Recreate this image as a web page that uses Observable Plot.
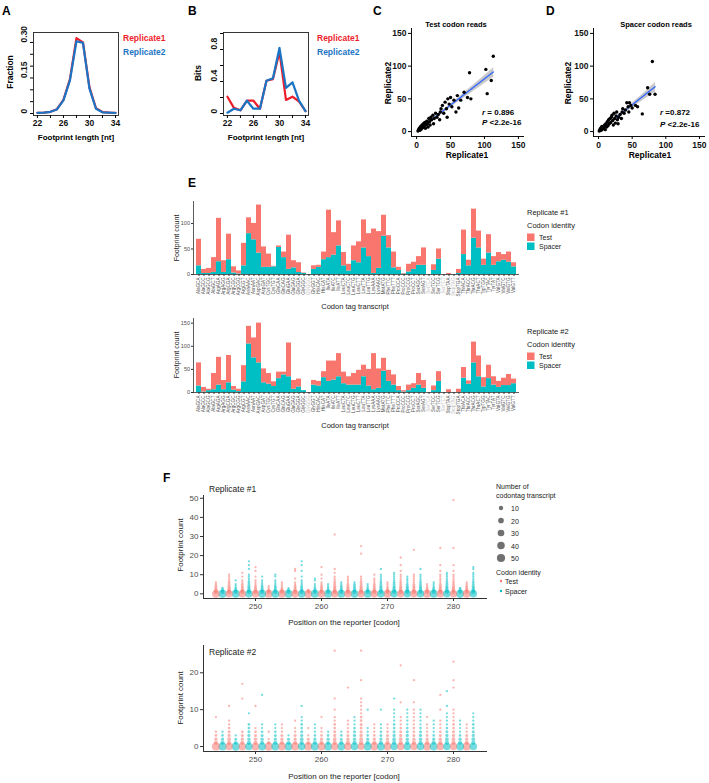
<!DOCTYPE html>
<html><head><meta charset="utf-8">
<script src="https://cdn.jsdelivr.net/npm/d3@7"></script>
<script src="https://cdn.jsdelivr.net/npm/@observablehq/plot@0.6"></script>
<style>
body{margin:0;background:#fff;}
#fig{position:relative;width:709px;height:783px;overflow:hidden;font-family:"Liberation Sans",Arial,sans-serif;}
#fig svg{position:absolute;left:0;top:0;overflow:visible;}
</style></head><body><div id="fig"></div><script>
// ---------- DATA ----------
const lengthNt = [22,23,24,25,26,27,28,29,30,31,32,33,34];
const fractionRep1 = [0.003,0.004,0.007,0.018,0.058,0.145,0.318,0.300,0.110,0.022,0.006,0.004,0.003];
const fractionRep2 = [0.003,0.004,0.007,0.017,0.055,0.140,0.305,0.298,0.105,0.020,0.005,0.004,0.002];
const bitsRep1 = [0.21,0.07,0.04,0.16,0.16,0.06,0.41,0.43,0.77,0.17,0.21,0.15,0.03];
const bitsRep2 = [0.01,0.06,0.04,0.16,0.06,0.06,0.41,0.44,0.82,0.32,0.39,0.16,0.03];

const testRep1 = [2,3,4,5,6,7,8,9,10,11,12,13,14,15,16,17,18,19,20,21,22,24,25,26,28,30,32,34,35,36,38,40,42,44,45,46,48,50,52,55,58,60,62,65,70,75,78,80,102,104,110,113];
const testRep2 = [1,3,5,2,8,4,10,6,12,8,14,5,10,16,12,7,20,15,10,22,18,25,12,20,28,22,26,18,30,35,40,28,45,35,22,50,42,52,38,48,30,55,36,48,60,52,90,50,95,58,78,115];
const spacerRep1 = [1,2,3,4,5,6,8,9,10,11,12,13,14,15,16,17,18,19,20,21,22,23,24,25,26,27,28,29,30,32,34,35,36,38,40,42,44,45,46,48,50,55,58,65,73,76,80,84];
const spacerRep2 = [1,3,5,2,8,4,6,10,3,12,7,15,9,18,12,20,14,22,25,17,10,28,20,13,24,30,18,12,22,26,20,30,35,28,33,44,38,30,44,40,36,40,38,27,67,57,107,57];

const codons = ["AlaGCA","AlaGCC","AlaGCG","AlaGCT","ArgAGA","ArgAGG","ArgCGA","ArgCGC","ArgCGG","ArgCGT","AsnAAC","AsnAAT","AspGAC","AspGAT","CysTGC","CysTGT","GlnCAA","GlnCAG","GluGAA","GluGAG","GlyGGA","GlyGGC","GlyGGG","GlyGGT","HisCAC","HisCAT","IleATA","IleATC","IleATT","LeuCTA","LeuCTC","LeuCTG","LeuCTT","LeuTTA","LeuTTG","LysAAA","LysAAG","MetATG","PheTTC","PheTTT","ProCCA","ProCCC","ProCCG","ProCCT","SerAGC","SerAGT","SerTCA","SerTCC","SerTCG","SerTCT","StopTAA","StopTAG","StopTGA","ThrACA","ThrACC","ThrACG","ThrACT","TrpTGG","TyrTAC","TyrTAT","ValGTA","ValGTC","ValGTG","ValGTT"];
const grayCodons = ["GlyGGG","SerTCA","SerTCT","StopTAG"];
const e1Test   = [52,8,10,29,85,23,50,12,6,44,31,32,94,40,26,1,3,11,67,14,19,1,0,7,4,15,93,44,49,26,13,29,41,55,45,87,72,41,24,31,6,1,15,14,17,34,0,11,20,0,2,0,8,48,11,57,33,12,36,17,18,11,20,8];
const e1Spacer = [17,2,2,4,25,4,29,3,1,17,80,68,42,14,14,15,53,33,10,13,4,2,0,10,14,29,33,38,56,17,7,27,23,52,35,2,12,75,52,13,8,1,5,10,18,18,0,8,30,0,0,0,2,39,17,71,52,18,42,18,25,28,24,15];
const e2Test   = [50,10,3,35,60,20,59,8,5,35,38,43,86,30,23,10,14,6,73,19,17,0,0,10,10,13,44,41,50,25,18,25,32,25,36,78,42,28,24,22,9,3,12,10,25,17,0,10,21,0,6,0,7,23,7,45,45,20,29,18,13,16,24,10];
const e2Spacer = [14,1,4,6,16,6,21,5,2,23,105,75,64,21,18,13,30,38,34,7,12,4,0,16,14,32,24,27,34,19,16,16,16,34,14,6,9,46,24,16,4,1,4,9,16,9,0,4,24,0,0,0,0,31,18,64,34,12,30,16,11,15,15,19];

const fPositions = [244,245,246,247,248,249,250,251,252,253,254,255,256,257,258,259,260,261,262,263,264,265,266,267,268,269,270,271,272,273,274,275,276,277,278,279,280,281,282,283];
const fIdentity = ["Test","Spacer","Test","Spacer","Test","Spacer","Test","Spacer","Test","Spacer","Test","Spacer","Test","Spacer","Test","Spacer","Test","Spacer","Test","Spacer","Test","Spacer","Test","Spacer","Test","Spacer","Test","Spacer","Test","Spacer","Test","Spacer","Test","Spacer","Test","Spacer","Test","Spacer","Test","Spacer"];
// number of codontag transcripts at footprint count 0,1,2,...
const f1Counts = [
 [44,9,5,3,2,1,1],[50,8,4,2],[38,10,6,4,3,2,2,1,1,1,1],[48,8,4,2,1,1,0,1],
 [40,9,5,3,2,2,1,1,0,1,0,1],[42,9,6,4,3,2,2,1,1,1,1,0,0,1,0,1],[40,9,5,3,2,1,1,1,0,1,0,0,1,0,1],[46,8,5,3,2,1,1,1,0,1],
 [48,8,3,1,1],[45,8,5,3,2,1,1,1,0,1,1],[47,8,4,2,1,1,1],[50,7,4,1],
 [42,9,5,3,2,1,1,0,1,0,0,0,1,1],[44,9,5,3,2,1,1,1,0,1,0,0,1,0,0,1],[52,6,2],[46,8,4,2,1,1,0,1,1],
 [44,8,4,3,2,1,1,0,1,0,1,0,0,0,1],[48,8,3,2,1,1],[38,9,6,4,3,2,2,1,1,1,0,1,0,1],[46,8,4,3,2,1,1],
 [40,9,5,4,3,2,1,1,1,1],[44,9,5,3,2,2,1],[38,10,6,4,3,2,2,1,1,1],[46,8,4,2,1,1],
 [42,9,5,3,2,2,1,1,1,0,1],[42,9,5,4,3,2,2,1,1,1,1,0,0,1],[46,8,4,2,1,1,1],[40,9,6,4,3,2,2,1,1,1,1,1],
 [38,10,6,4,3,2,2,1,1,1,1,0,1,0,0,1],[40,9,6,4,3,2,1,1,1,1],[40,9,5,3,3,2,1,1,1,1,1],[40,9,6,4,3,2,2,1,1,1,1,0,0,1],
 [48,8,4,2,1,1],[46,8,4,3,1,1,1],[40,9,6,4,3,2,1,1,1,1,1,0,1,0,0,1],[40,9,6,4,3,2,2,1,1,1,1,1],
 [38,9,6,4,3,2,2,1,1,1,1,0,1,0,0,1],[50,8,4,2],[46,8,4,3,2,1,1],[40,9,6,4,3,2,2,1,1,1,1,1,0,1,1]
];
const f1Outliers = [[262,31],[266,25],[266,21],[272,19],[274,23],[278,24],[280,49],[280,24],[249,17],[257,17]];
const f2Counts = [
 [48,8,4,2,1],[50,8,4,2,1],[40,9,6,4,3,2,1,1],[52,6,3,1],
 [44,8,4,3,2],[42,9,5,4,3,2,2],[44,8,5,3,2,1],[44,8,5,3,2,1,1],
 [54,5,1,0,1],[46,8,4,3,2,1,1],[46,8,4,3,1,1,1],[50,7,3,1],
 [46,8,4,3,1,1,0,1],[40,9,6,4,3,2,2,1,1],[50,7,3,1,0,1],[46,8,4,2,1,1,1],
 [46,8,4,2,1,1,0,0,1],[48,7,4,2,1],[38,9,6,4,3,2,2,1,1,0,1],[48,8,3,2,1],
 [42,9,5,3,2,1,1,1],[42,9,5,4,3,2,1,1,1],[34,10,7,5,4,3,3,2,2,1,1,1,1,1],[46,8,4,2,1,1],
 [48,8,4,2,1,1,1],[44,8,4,3,2,1,1],[46,8,4,3,2,1,1],[40,9,6,4,3,2,2,1,1,1,1,0,0,1],
 [40,9,6,4,3,2,1,1,1],[42,9,5,4,3,2,1,1,1,1,1],[42,9,5,3,2,2,1,1,1,1,1],[42,9,5,4,3,2,1,1,1,1,1],
 [46,8,4,2,1,1,1,0,1],[46,8,4,2,1,1,1,1],[42,9,5,3,2,1,1,1],[40,9,6,4,3,2,1,1,1,1],
 [38,9,6,4,3,2,2,1,1,1,1],[46,8,4,2,1,1,1,1],[48,8,4,3,1,1,1],[40,9,6,4,3,2,2,1,1,1]
];
const f2Outliers = [[244,8],[246,11],[248,13],[248,17],[249,9],[250,11],[251,14],[257,11],[262,13],[262,26],[264,16],[266,18],[266,26],[267,10],[269,10],[272,12],[272,22],[274,12],[274,18],[278,10],[278,14],[279,11],[279,15],[280,16],[280,18],[280,23]];
const sizeLegend = [10,20,30,40,50];

// ---------- SETUP ----------
const W = 709, H = 783;
const RED = "#EE1D2B", BLUE = "#1C75C4";
const TESTC = "#F8766D", SPACERC = "#00BFC4";
const FONT = "Liberation Sans, Arial, Helvetica, sans-serif";
const fig = document.getElementById("fig");
function P(o){ const s = Plot.plot({width:W, height:H, style:{background:"transparent", fontFamily:FONT, overflow:"visible"}, ...o}); fig.appendChild(s); return s; }

// ---------- A ----------
const lenA1 = lengthNt.map((l,i)=>({len:l, v:fractionRep1[i]}));
const lenA2 = lengthNt.map((l,i)=>({len:l, v:fractionRep2[i]}));
P({marginLeft:33, marginRight:W-118, marginTop:32, marginBottom:H-115,
  x:{domain:[21.4,34.46]}, y:{domain:[-0.0085,0.342]},
  marks:[
    Plot.frame({stroke:"#222", strokeWidth:0.9}),
    Plot.axisX({ticks:[22,24,26,28,30,32,34], tickSize:3, tickPadding:1.5, tickFormat:d=>d%4===2?String(d):"", fontSize:8.5, fontWeight:"bold", fill:"#111", label:null}),
    Plot.axisY({ticks:[0,0.05,0.1,0.15,0.2,0.25,0.3], tickSize:3, tickFormat:()=>"", label:null}),
    Plot.text([0,0.15,0.30], {y:d=>d, frameAnchor:"left", dx:-9, rotate:-90, text:d=>d===0?"0":d.toFixed(2), fontSize:8.5, fontWeight:"bold", fill:"#111"}),
    Plot.line(lenA1, {x:"len", y:"v", stroke:RED, strokeWidth:2.2}),
    Plot.line(lenA2, {x:"len", y:"v", stroke:BLUE, strokeWidth:2.2})
  ]});

// ---------- B ----------
const lenB1 = lengthNt.map((l,i)=>({len:l, v:bitsRep1[i]}));
const lenB2 = lengthNt.map((l,i)=>({len:l, v:bitsRep2[i]}));
P({marginLeft:223, marginRight:W-308, marginTop:32, marginBottom:H-115,
  x:{domain:[21.4,34.46]}, y:{domain:[-0.025,1.0125]},
  marks:[
    Plot.frame({stroke:"#222", strokeWidth:0.9}),
    Plot.axisX({ticks:[22,24,26,28,30,32,34], tickSize:3, tickPadding:1.5, tickFormat:d=>d%4===2?String(d):"", fontSize:8.5, fontWeight:"bold", fill:"#111", label:null}),
    Plot.axisY({ticks:[0,0.2,0.4,0.6,0.8,1.0], tickSize:3, tickFormat:()=>"", label:null}),
    Plot.text([0,0.4,0.8], {y:d=>d, frameAnchor:"left", dx:-9, rotate:-90, text:d=>d===0?"0":d.toFixed(1), fontSize:8.5, fontWeight:"bold", fill:"#111"}),
    Plot.line(lenB1, {x:"len", y:"v", stroke:RED, strokeWidth:2.2}),
    Plot.line(lenB2, {x:"len", y:"v", stroke:BLUE, strokeWidth:2.2})
  ]});

// ---------- C & D ----------
function scatter(xs, ys, left, right){
  const pts = xs.map((x,i)=>({x, y:ys[i]}));
  P({marginLeft:left, marginRight:W-right, marginTop:28, marginBottom:H-136,
    x:{domain:[-7.5,157.5]}, y:{domain:[-7.5,157.5]},
    marks:[
      Plot.frame({anchor:"left", stroke:"#111", strokeWidth:1}),
      Plot.frame({anchor:"bottom", stroke:"#111", strokeWidth:1}),
      Plot.axisX({ticks:[0,50,100,150], tickSize:3, tickPadding:2, fontSize:8.5, fontWeight:"bold", fill:"#111", label:null}),
      Plot.axisY({ticks:[0,50,100,150], tickSize:3, tickPadding:2, fontSize:8.5, fontWeight:"bold", fill:"#111", label:null}),
      Plot.linearRegressionY(pts, {x:"x", y:"y", stroke:"#3366FF", strokeWidth:1.4, fill:"#888", fillOpacity:0.45}),
      Plot.dot(pts, {x:"x", y:"y", r:1.7, fill:"#000"})
    ]});
}
scatter(testRep1, testRep2, 411, 523);
scatter(spacerRep1, spacerRep2, 593, 704);

// ---------- E ----------
function bars(testV, spacerV, top, bottom, ymax, yticks){
  const data = [];
  codons.forEach((c,i)=>{ data.push({codon:c, id:"Spacer", v:spacerV[i]}); data.push({codon:c, id:"Test", v:testV[i]}); });
  const gray = new Set(grayCodons);
  P({marginLeft:193, marginRight:W-518, marginTop:top, marginBottom:H-bottom,
    x:{type:"band", domain:codons, paddingInner:0.1, paddingOuter:0.15},
    y:{domain:[0,ymax]},
    color:{domain:["Test","Spacer"], range:[TESTC,SPACERC]},
    marks:[
      Plot.barY(data, {x:"codon", y:"v", fill:"id"}),
      Plot.frame({anchor:"left", stroke:"#333", strokeWidth:0.8}),
      Plot.frame({anchor:"bottom", stroke:"#333", strokeWidth:0.8}),
      Plot.axisY({ticks:yticks, tickSize:2, tickPadding:1.5, fontSize:5.5, fill:"#4d4d4d", stroke:"#333", label:null}),
      Plot.axisX({tickSize:2, tickFormat:()=>"", stroke:"#333", label:null}),
      Plot.text(codons.filter(c=>!gray.has(c)), {x:d=>d, frameAnchor:"bottom", dy:3, rotate:-90, textAnchor:"end", lineAnchor:"middle", fontSize:4.6, fill:"#4d4d4d"}),
      Plot.text(codons.filter(c=>gray.has(c)), {x:d=>d, frameAnchor:"bottom", dy:3, rotate:-90, textAnchor:"end", lineAnchor:"middle", fontSize:4.6, fill:"#bdbdbd"})
    ]});
}
bars(e1Test, e1Spacer, 201, 274, 143, [0,50,100]);
bars(e2Test, e2Spacer, 318, 392, 160, [0,50,100,150]);

// ---------- F ----------
const rOpts = {type:"sqrt", domain:[1,50], range:[1.15,4.1]};
const rScale = Plot.scale({r:rOpts});
function buildF(cols, outl){
  const out = [];
  cols.forEach((c,i)=>c.forEach((n,y)=>{ if(n>0) out.push({pos:fPositions[i], id:fIdentity[i], y, n}); }));
  outl.forEach(([p,y])=>out.push({pos:p, id:fIdentity[fPositions.indexOf(p)], y, n:1}));
  return out;
}
function dots(data, top, bottom, ydom, yticks){
  P({marginLeft:203, marginRight:W-486, marginTop:top, marginBottom:H-bottom,
    x:{domain:[242.12,285.0]}, y:{domain:ydom}, r:rOpts,
    color:{domain:["Test","Spacer"], range:[TESTC,SPACERC]},
    marks:[
      Plot.frame({anchor:"left", stroke:"#333", strokeWidth:1}),
      Plot.frame({anchor:"bottom", stroke:"#333", strokeWidth:1}),
      Plot.axisX({ticks:[250,260,270,280], tickSize:3, tickPadding:2, fontSize:8, fill:"#4d4d4d", stroke:"#333", label:null}),
      Plot.axisY({ticks:yticks, tickSize:3, tickPadding:2, fontSize:8, fill:"#4d4d4d", stroke:"#333", label:null}),
      Plot.dot(data, {x:"pos", y:"y", r:"n", fill:"id", fillOpacity:0.55})
    ]});
}
dots(buildF(f1Counts, f1Outliers), 495, 598, [-2.45,51.45], [0,10,20,30,40,50]);
dots(buildF(f2Counts, f2Outliers), 645, 751, [-1.35,27.4], [0,10,20]);

// ---------- TEXT OVERLAY ----------
const ov = d3.select(fig).append("svg").attr("width",W).attr("height",H).style("font-family",FONT);
function txt(parts, x, y, o={}){
  const t = ov.append("text").attr("x",x).attr("y",y).attr("dominant-baseline","central")
    .attr("text-anchor",o.anchor||"start").attr("font-size",o.size||8)
    .attr("font-weight",o.weight||"normal").attr("fill",o.fill||"#000");
  if(typeof parts==="string") parts=[[parts,false]];
  parts.forEach(([s,it])=>t.append("tspan").attr("font-style",it?"italic":"normal").text(s));
  if(o.rotate) t.attr("transform",`rotate(${o.rotate},${x},${y})`);
  return t;
}
const B = {weight:"bold"};
txt("A",2,11,{...B,size:12}); txt("B",188,11,{...B,size:12}); txt("C",373,11,{...B,size:12}); txt("D",546,11,{...B,size:12});
txt("Fraction",10,72,{...B,size:8.5,anchor:"middle",rotate:-90});
txt("Footprint length [nt]",76,137,{...B,size:8,anchor:"middle"});
txt("Replicate1",123,38,{...B,size:8.5,fill:RED}); txt("Replicate2",123,52,{...B,size:8.5,fill:BLUE});
txt("Bits",198,73,{...B,size:8.5,anchor:"middle",rotate:-90});
txt("Footprint length [nt]",266,137,{...B,size:8,anchor:"middle"});
txt("Replicate1",317,38,{...B,size:8.5,fill:RED}); txt("Replicate2",317,52,{...B,size:8.5,fill:BLUE});
txt("Test codon reads",456,24,{...B,size:7.5,anchor:"middle"});
txt("Replicate2",388,83,{...B,size:8.5,anchor:"middle",rotate:-90});
txt("Replicate1",467,155,{...B,size:8.5,anchor:"middle"});
txt([["r",true],[" = 0.896",false]],482,112,{...B,size:8});
txt([["P",true],[" <2.2e-16",false]],482,122,{...B,size:8});
txt("Spacer codon reads",656,24,{...B,size:7.5,anchor:"middle"});
txt("Replicate2",568,83,{...B,size:8.5,anchor:"middle",rotate:-90});
txt("Replicate1",650,155,{...B,size:8.5,anchor:"middle"});
txt([["r",true],[" =0.872",false]],660,112,{...B,size:8});
txt([["P",true],[" <2.2e-16",false]],660,124,{...B,size:8});

txt("E",188,183,{...B,size:12});
txt("Footprint count",176,238,{size:7,anchor:"middle",rotate:-90,fill:"#222"});
txt("Footprint count",176,355,{size:7,anchor:"middle",rotate:-90,fill:"#222"});
txt("Codon tag transcript",355,306,{size:7.5,anchor:"middle",fill:"#222"});
txt("Codon tag transcript",355,425,{size:7.5,anchor:"middle",fill:"#222"});
[[212,"Replicate #1"],[331,"Replicate #2"]].forEach(([y0,lab])=>{
  txt(lab,527,y0,{size:7.5,fill:"#222"});
  txt("Codon identity",527,y0+13,{size:7.5,fill:"#222"});
  ov.append("rect").attr("x",527).attr("y",y0+21.5).attr("width",7.5).attr("height",7.5).attr("fill",TESTC);
  ov.append("rect").attr("x",527).attr("y",y0+30.5).attr("width",7.5).attr("height",7.5).attr("fill",SPACERC);
  txt("Test",539,y0+24.5,{size:7,fill:"#222"});
  txt("Spacer",539,y0+34,{size:7,fill:"#222"});
});

txt("F",163,478,{...B,size:12});
txt("Replicate #1",209,489,{size:8.5,fill:"#222"});
txt("Replicate #2",209,652,{size:8.5,fill:"#222"});
txt("Footprint count",180,545,{size:8,anchor:"middle",rotate:-90,fill:"#222"});
txt("Footprint count",180,698,{size:8,anchor:"middle",rotate:-90,fill:"#222"});
txt("Position on the reporter [codon]",344,622,{size:8,anchor:"middle",fill:"#222"});
txt("Position on the reporter [codon]",344,776,{size:8,anchor:"middle",fill:"#222"});
txt("Number of",496,486,{size:7,fill:"#222"});
txt("codontag transcript",496,495,{size:7,fill:"#222"});
sizeLegend.forEach((n,i)=>{
  const y = 508 + i*12.5;
  ov.append("circle").attr("cx",501).attr("cy",y).attr("r",rScale.apply(n)).attr("fill","#333").attr("fill-opacity",0.7);
  txt(String(n),511,y,{size:7,fill:"#222"});
});
txt("Codon identity",496,572,{size:7,fill:"#222"});
ov.append("circle").attr("cx",501).attr("cy",581).attr("r",1.2).attr("fill",TESTC);
ov.append("circle").attr("cx",501).attr("cy",591).attr("r",1.2).attr("fill",SPACERC);
txt("Test",505,581,{size:7,fill:"#222"});
txt("Spacer",505,591,{size:7,fill:"#222"});
</script></body></html>
